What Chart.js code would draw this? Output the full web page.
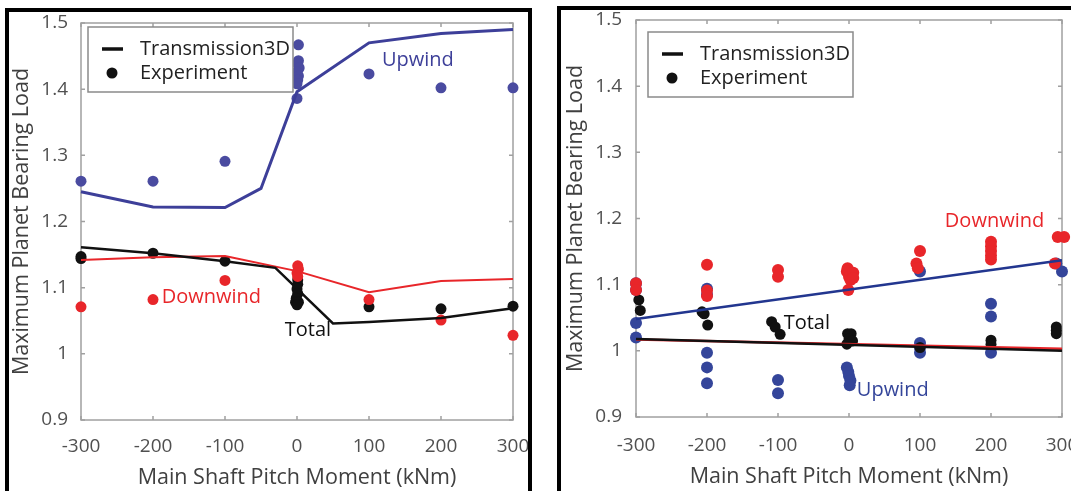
<!DOCTYPE html>
<html>
<head>
<meta charset="utf-8">
<script src="https://cdn.jsdelivr.net/npm/chart.js@4"></script>
<style>
  html, body { margin: 0; padding: 0; background: #fff; overflow: hidden; width: 1071px; height: 491px; }
  .frame { position: absolute; border: 4px solid #000; background: #fff; }
  #frameA { left: 5px; top: 8px; width: 519px; height: 600px; }
  #frameB { left: 557px; top: 6px; width: 520px; height: 600px; }
  canvas { position: absolute; left: 0; top: 0; }
</style>
</head>
<body>
<div class="frame" id="frameA"><canvas id="chartA" width="519" height="479"></canvas></div>
<div class="frame" id="frameB"><canvas id="chartB" width="510" height="481"></canvas></div>
<script>
// axis ticks and titles
const xTickLabels = ['-300', '-200', '-100', '0', '100', '200', '300'];
const yTickLabels = ['0.9', '1', '1.1', '1.2', '1.3', '1.4', '1.5'];
const xTitle = 'Main Shaft Pitch Moment (kNm)';
const yTitle = 'Maximum Planet Bearing Load';
const legendLabels = ['Transmission3D', 'Experiment'];

// left panel - Transmission3D model lines
const upModelXA = [-300, -200, -100, -50, 0, 100, 200, 300];
const upModelYA = [1.245, 1.222, 1.221, 1.25, 1.396, 1.470, 1.484, 1.490];
const downModelXA = [-300, -200, -100, 0, 100, 200, 300];
const downModelYA = [1.142, 1.146, 1.148, 1.125, 1.093, 1.110, 1.113];
const totalModelXA = [-300, -200, -100, -30, 50, 100, 200, 300];
const totalModelYA = [1.161, 1.152, 1.140, 1.130, 1.046, 1.048, 1.054, 1.069];

// left panel - experiment points
const upExpXA = [-300, -200, -100, 2, 2, 1, 3, 0, 2, 1, 0, 0, 100, 200, 300];
const upExpYA = [1.261, 1.261, 1.291, 1.467, 1.443, 1.438, 1.432, 1.426, 1.420, 1.414, 1.408, 1.386, 1.423, 1.402, 1.402];
const downExpXA = [-300, -200, -100, 1, 2, 0, 1, 100, 200, 300];
const downExpYA = [1.071, 1.082, 1.111, 1.133, 1.128, 1.122, 1.117, 1.082, 1.051, 1.028];
const totalExpXA = [-300, -300, -200, -100, 1, 1, 0, 1, -1, -2, 2, 0, 100, 200, 300];
const totalExpYA = [1.147, 1.144, 1.152, 1.140, 1.112, 1.105, 1.098, 1.091, 1.084, 1.078, 1.078, 1.074, 1.071, 1.068, 1.072];

// right panel - Transmission3D model lines
const upModelXB = [-300, 300];
const upModelYB = [1.048, 1.137];
const downModelXB = [-300, 300];
const downModelYB = [1.017, 1.003];
const totalModelXB = [-300, 300];
const totalModelYB = [1.018, 1.000];

// right panel - experiment points
const downExpXB = [-300, -300, -200, -200, -200, -100, -100, -2, -3, 0, 2, -1, 6, 6, 100, 95, 97, 200, 200, 200, 200, 200, 294, 303, 290];
const downExpYB = [1.102, 1.092, 1.130, 1.091, 1.083, 1.122, 1.112, 1.125, 1.120, 1.112, 1.107, 1.092, 1.118, 1.110, 1.151, 1.132, 1.125, 1.165, 1.158, 1.151, 1.144, 1.138, 1.172, 1.172, 1.132];
const upExpXB = [-300, -300, -300, -300, -200, -200, -200, -200, -200, -100, -100, -3, -1, 0, 2, 1, 100, 100, 100, 100, 200, 200, 200, 292, 300];
const upExpYB = [1.102, 1.092, 1.042, 1.020, 1.094, 1.085, 0.997, 0.975, 0.951, 0.956, 0.936, 0.975, 0.968, 0.962, 0.955, 0.948, 1.120, 1.012, 1.005, 0.997, 1.071, 1.052, 0.997, 1.132, 1.120];
const totalExpXB = [-296, -294, -207, -204, -199, -109, -104, -97, -2, 3, 0, 5, -3, 100, 200, 200, 292, 292, 292];
const totalExpYB = [1.077, 1.061, 1.059, 1.056, 1.039, 1.044, 1.036, 1.025, 1.026, 1.026, 1.018, 1.015, 1.010, 1.005, 1.016, 1.010, 1.036, 1.031, 1.026];

// curve labels, anchored in data units
const noteTexts = ['Upwind', 'Downwind', 'Total'];
const noteXA = [118, -188, -17];
const noteYA = [1.443, 1.086, 1.036];
const noteXB = [11, 135, -92];
const noteYB = [0.941, 1.196, 1.042];

const RED = '#e8262a';
const BLACK = '#111111';
const FONT = "'Open Sans', 'Noto Sans', sans-serif";

function pts(xs, ys) {
  return xs.map((x, i) => ({x: x, y: ys[i]}));
}

function lineSet(xs, ys, color, width) {
  return {data: pts(xs, ys), showLine: true, borderColor: color, borderWidth: width,
    pointRadius: 0, pointHoverRadius: 0, clip: false, order: 0};
}

function dotSet(xs, ys, color, radius, order) {
  return {data: pts(xs, ys), showLine: false, backgroundColor: color, borderWidth: 0,
    pointRadius: radius, pointHoverRadius: radius, clip: false, order: order};
}

// plot box with small inward tick marks
const boxPlugin = {
  id: 'box',
  beforeDatasetsDraw(chart) {
    const {ctx, chartArea: a, scales} = chart;
    ctx.save();
    ctx.strokeStyle = '#a0a0a0';
    ctx.lineWidth = 1.5;
    ctx.strokeRect(a.left, a.top, a.right - a.left, a.bottom - a.top);
    ctx.beginPath();
    scales.x.ticks.forEach(t => {
      const px = scales.x.getPixelForValue(t.value);
      ctx.moveTo(px, a.top); ctx.lineTo(px, a.top + 4);
      ctx.moveTo(px, a.bottom); ctx.lineTo(px, a.bottom - 4);
    });
    scales.y.ticks.forEach(t => {
      const py = scales.y.getPixelForValue(t.value);
      ctx.moveTo(a.left, py); ctx.lineTo(a.left + 4, py);
      ctx.moveTo(a.right, py); ctx.lineTo(a.right - 4, py);
    });
    ctx.stroke();
    ctx.restore();
  }
};

// legend box and curve labels
const notesPlugin = {
  id: 'notes',
  afterDatasetsDraw(chart, args, opts) {
    const {ctx, chartArea: a, scales} = chart;
    ctx.save();
    ctx.font = '20px ' + FONT;
    ctx.textBaseline = 'middle';
    ctx.textAlign = 'left';
    opts.texts.forEach((txt, i) => {
      ctx.fillStyle = opts.colors[i];
      ctx.fillText(txt, scales.x.getPixelForValue(opts.xs[i]), scales.y.getPixelForValue(opts.ys[i]));
    });
    // legend
    const bx = a.left + opts.legendDx, by = a.top + opts.legendDy;
    ctx.fillStyle = '#fff';
    ctx.fillRect(bx, by, 205, 65);
    ctx.strokeStyle = '#8a8a8a';
    ctx.lineWidth = 1.5;
    ctx.strokeRect(bx, by, 205, 65);
    ctx.strokeStyle = BLACK;
    ctx.lineWidth = 3.5;
    ctx.beginPath();
    ctx.moveTo(bx + 14, by + 22); ctx.lineTo(bx + 35, by + 22);
    ctx.stroke();
    ctx.fillStyle = BLACK;
    ctx.beginPath();
    ctx.arc(bx + 24, by + 46, 5.5, 0, Math.PI * 2);
    ctx.fill();
    ctx.fillStyle = '#222';
    ctx.fillText(legendLabels[0], bx + 52, by + 22);
    ctx.fillText(legendLabels[1], bx + 52, by + 46);
    ctx.restore();
  }
};

function makeChart(id, datasets, notes, lay) {
  return new Chart(document.getElementById(id), {
    type: 'scatter',
    data: {datasets: datasets},
    plugins: [boxPlugin, notesPlugin],
    options: {
      responsive: false,
      animation: false,
      devicePixelRatio: 1,
      layout: {padding: {left: 0, top: lay.top, right: lay.right, bottom: 0}},
      plugins: {
        legend: {display: false},
        tooltip: {enabled: false},
        notes: notes
      },
      scales: {
        x: {
          type: 'linear', min: -300, max: 300,
          grid: {display: false, drawTicks: false},
          border: {display: false},
          ticks: {stepSize: 100, padding: lay.xPad, color: '#505050', font: {family: FONT, size: 19},
            callback: (v, i) => xTickLabels[i]},
          title: {display: true, text: xTitle, color: '#404040', font: {family: FONT, size: 21.5},
            padding: {top: 0, bottom: lay.xTitlePad}},
          afterFit: s => { s.height = lay.xHeight; s.paddingLeft = 0; s.paddingRight = 0; }
        },
        y: {
          type: 'linear', min: 0.9, max: 1.5,
          grid: {display: false, drawTicks: false},
          border: {display: false},
          ticks: {stepSize: 0.1, padding: lay.yPad, color: '#505050', font: {family: FONT, size: 19},
            callback: (v, i) => yTickLabels[i]},
          title: {display: true, text: yTitle, color: '#404040', font: {family: FONT, size: 21.5},
            padding: {top: lay.yTitlePad, bottom: 0}},
          afterFit: s => { s.width = lay.yWidth; s.paddingTop = 0; s.paddingBottom = 0; }
        }
      }
    }
  });
}

const BLUE_A = '#3d3f99';
const BLUE_DOT_A = '#4a4ba0';
makeChart('chartA', [
  lineSet(upModelXA, upModelYA, BLUE_A, 3),
  lineSet(totalModelXA, totalModelYA, BLACK, 2.5),
  lineSet(downModelXA, downModelYA, RED, 2),
  dotSet(downExpXA, downExpYA, RED, 5.5, 3),
  dotSet(totalExpXA, totalExpYA, BLACK, 5.5, 4),
  dotSet(upExpXA, upExpYA, BLUE_DOT_A, 5.5, 5)
], {
  texts: noteTexts, xs: noteXA, ys: noteYA, colors: [BLUE_A, RED, BLACK], legendDx: 7, legendDy: 4
}, {top: 11, right: 15, xHeight: 71, yWidth: 72, xPad: 15, yPad: 13, xTitlePad: 0, yTitlePad: 0});

const BLUE_B = '#22368f';
const BLUE_DOT_B = '#34459a';
makeChart('chartB', [
  lineSet(totalModelXB, totalModelYB, BLACK, 2.5),
  lineSet(downModelXB, downModelYB, RED, 2.5),
  lineSet(upModelXB, upModelYB, BLUE_B, 2.5),
  dotSet(downExpXB, downExpYB, RED, 6, 3),
  dotSet(totalExpXB, totalExpYB, BLACK, 5.5, 4),
  dotSet(upExpXB, upExpYB, BLUE_DOT_B, 6, 5)
], {
  texts: noteTexts, xs: noteXB, ys: noteYB, colors: [BLUE_DOT_B, RED, BLACK], legendDx: 12, legendDy: 12
}, {top: 10, right: 9, xHeight: 74, yWidth: 75, xPad: 17, yPad: 14, xTitlePad: 1, yTitlePad: 2});
</script>
</body>
</html>
